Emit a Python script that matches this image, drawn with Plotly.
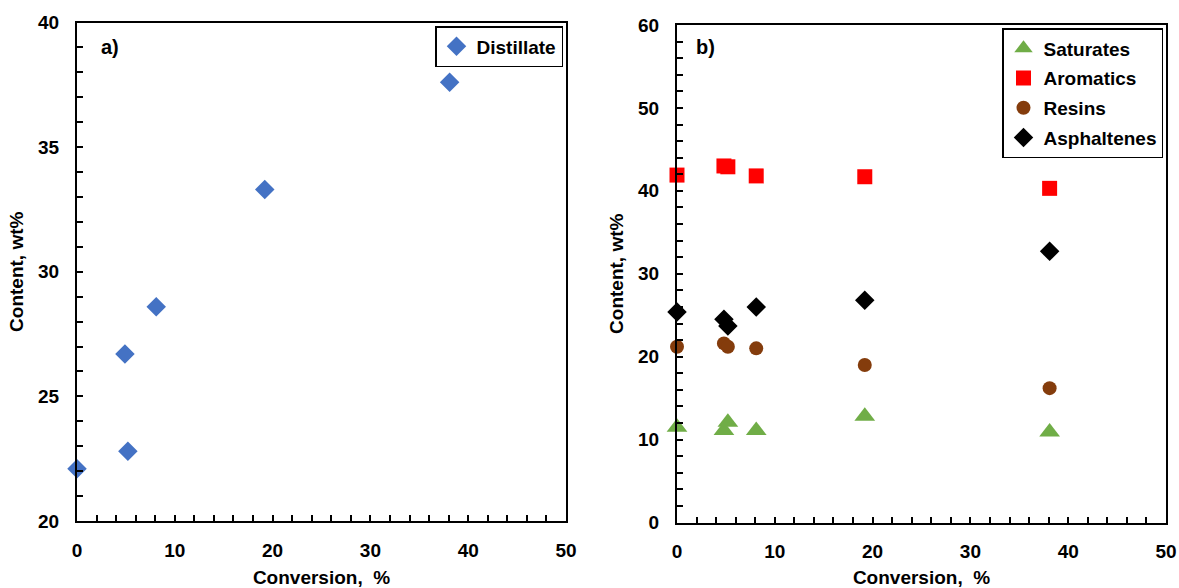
import plotly.graph_objects as go

# ---- data ----
dist_x = [0, 4.9, 5.2, 8.1, 19.2, 38.1]
dist_y = [22.1, 26.7, 22.8, 28.6, 33.3, 37.6]

sara_x = [0, 4.8, 5.2, 8.1, 19.2, 38.1]
saturates = [11.5, 11.1, 12.1, 11.1, 12.8, 10.9]
aromatics = [41.9, 43.0, 42.9, 41.8, 41.7, 40.3]
resins = [21.2, 21.6, 21.2, 21.0, 19.0, 16.2]
asphaltenes = [25.4, 24.5, 23.7, 26.0, 26.8, 32.7]

FONT = "Liberation Sans"
W, H = 1179, 588

fig = go.Figure()

fig.add_trace(go.Scatter(x=dist_x, y=dist_y, mode="markers", name="Distillate",
                         marker=dict(symbol="diamond", size=15, color="#4472C4"),
                         cliponaxis=False,
                         xaxis="x", yaxis="y", legend="legend"))

series = [
    ("Saturates", saturates, "triangle-up", 18, "#70AD47"),
    ("Aromatics", aromatics, "square", 15, "#FF0000"),
    ("Resins", resins, "circle", 14, "#843C0C"),
    ("Asphaltenes", asphaltenes, "diamond", 15, "#000000"),
]
for name, ys, sym, sz, col in series:
    fig.add_trace(go.Scatter(x=sara_x, y=ys, mode="markers", name=name,
                             marker=dict(symbol=sym, size=sz, color=col),
                             cliponaxis=False,
                             xaxis="x2", yaxis="y2", legend="legend2",
                             legendgroup=name))

tickfont = dict(family=FONT, size=19, color="black", weight="bold")
titlefont = dict(family=FONT, size=19, color="black", weight="bold")

def xax(domain, anchor):
    return dict(domain=domain, anchor=anchor, range=[0, 50], dtick=10, tick0=0,
                ticks="inside", ticklen=6, tickwidth=1.5, tickcolor="black",
                minor=dict(dtick=2, ticks="inside", ticklen=6, tickwidth=1.5, tickcolor="black"),
                showline=True, linecolor="black", linewidth=2, mirror=True,
                showgrid=False, zeroline=False, tickfont=tickfont,
                ticklabelstandoff=11, automargin=False,
                title=dict(text="Conversion,  %", font=titlefont, standoff=13))

def yax(domain, anchor, rng, dtick, minor):
    return dict(domain=domain, anchor=anchor, range=rng, dtick=dtick, tick0=0,
                ticks="inside", ticklen=6, tickwidth=1.5, tickcolor="black",
                minor=dict(dtick=minor, ticks="inside", ticklen=6, tickwidth=1.5, tickcolor="black"),
                showline=True, linecolor="black", linewidth=2, mirror=True,
                showgrid=False, zeroline=False, tickfont=tickfont,
                ticklabelstandoff=12, automargin=False,
                title=dict(text="Content, wt%", font=titlefont, standoff=9))

fig.update_layout(
    width=W, height=H,
    margin=dict(l=0, r=0, t=0, b=0, autoexpand=False),
    paper_bgcolor="white", plot_bgcolor="white",
    showlegend=True,
    xaxis=xax([77 / W, 566 / W], "y"),
    yaxis=yax([1 - 521 / H, 1 - 22.5 / H], "x", [20, 40], 5, 1),
    xaxis2=xax([677 / W, 1166 / W], "y2"),
    yaxis2=yax([1 - 522.5 / H, 1 - 25 / H], "x2", [0, 60], 10, 2),
    legend=dict(x=563 / W, xanchor="right", y=1 - 26 / H, yanchor="top",
                bgcolor="white", bordercolor="black", borderwidth=1.5,
                font=dict(family=FONT, size=19, color="black", weight="bold"),
                itemwidth=30),
    legend2=dict(x=1163 / W, xanchor="right", y=1 - 28 / H, yanchor="top",
                 bgcolor="white", bordercolor="black", borderwidth=1.5,
                 font=dict(family=FONT, size=19, color="black", weight="bold"),
                 tracegroupgap=2, itemwidth=30),
    annotations=[
        dict(text="a)", x=110 / W, y=1 - 47 / H, xref="paper", yref="paper",
             xanchor="center", yanchor="middle",
             showarrow=False, font=dict(family=FONT, size=20, color="black", weight="bold")),
        dict(text="b)", x=705 / W, y=1 - 47 / H, xref="paper", yref="paper",
             xanchor="center", yanchor="middle",
             showarrow=False, font=dict(family=FONT, size=20, color="black", weight="bold")),
    ],
)

fig.write_html("out.html")
